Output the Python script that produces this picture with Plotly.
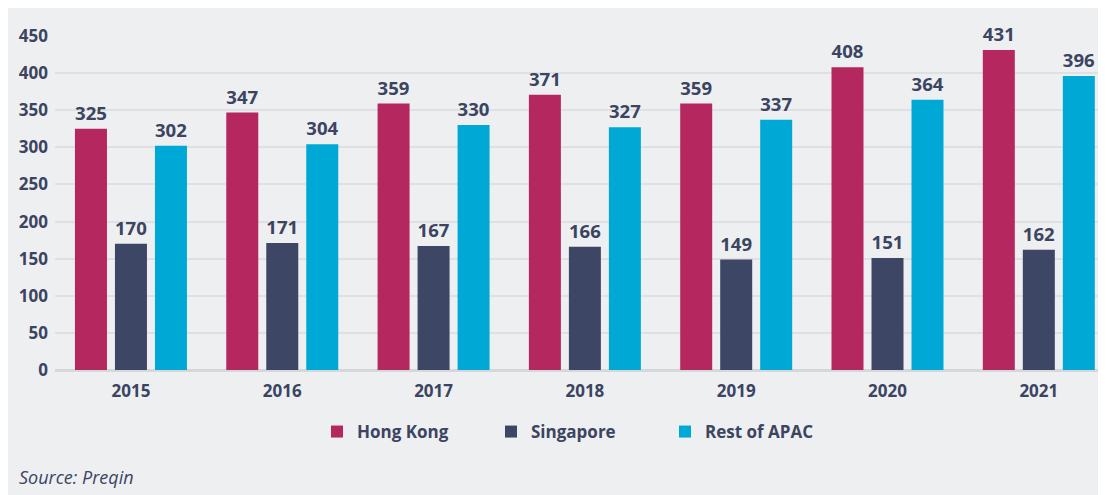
import plotly.graph_objects as go

years = ["2015", "2016", "2017", "2018", "2019", "2020", "2021"]
hong_kong = [325, 347, 359, 371, 359, 408, 431]
singapore = [170, 171, 167, 166, 149, 151, 162]
rest_apac = [302, 304, 330, 327, 337, 364, 396]
series_names = ["Hong Kong", "Singapore", "Rest of APAC"]
series_colors = ["#b5285f", "#3d4664", "#00a8d5"]
y_ticks = [0, 50, 100, 150, 200, 250, 300, 350, 400, 450]

TEXT = "#3b4461"
FONT = "Open Sans"
BG = "#eeeff1"

fig = go.Figure()
for name, vals, col in zip(series_names, [hong_kong, singapore, rest_apac], series_colors):
    fig.add_trace(go.Bar(
        x=years, y=vals, name=name,
        marker=dict(color=col, line=dict(width=0)),
        text=[str(v) for v in vals],
        textposition="outside",
        textfont=dict(family=FONT, size=19, color=TEXT, weight="bold"),
        cliponaxis=False,
    ))

# page has an 8px body margin; figure coordinates are page coordinates minus 8
OFF = 8
W, H = 1098, 487
ml, mr, mt, mb = 55 - OFF, 0, 36 - OFF, H - (370 - OFF)
pw = W - ml - mr
ph = H - mt - mb

def px(xp):
    return (xp - OFF - ml) / pw

def py(yp):
    return (H - mb - (yp - OFF)) / ph

fig.add_annotation(text="<i>Source: Preqin</i>", xref="paper", yref="paper",
                   x=px(17), y=py(477),
                   xanchor="left", yanchor="middle", showarrow=False,
                   font=dict(family=FONT, size=18, color=TEXT))

fig.update_layout(
    width=W, height=H,
    margin=dict(l=ml, r=mr, t=mt, b=mb),
    paper_bgcolor=BG,
    plot_bgcolor=BG,
    barmode="group",
    bargap=0.207,
    bargroupgap=0.2,
    font=dict(family=FONT, color=TEXT),
    xaxis=dict(
        type="category", range=[-0.502, 6.444],
        showgrid=False, showline=False, zeroline=False,
        tickfont=dict(family=FONT, size=17, color=TEXT, weight="bold"),
        ticks="", ticklabelstandoff=9,
    ),
    yaxis=dict(
        range=[0, 450], tickvals=y_ticks,
        showgrid=True, gridcolor="#dfe0e3", gridwidth=1.5,
        zeroline=True, zerolinecolor="#d6d7db", zerolinewidth=2.5,
        showline=False, ticks="",
        tickfont=dict(family=FONT, size=17, color=TEXT, weight="bold"),
        ticklabelstandoff=6,
    ),
    legend=dict(
        orientation="h", x=px(317), xanchor="left",
        y=py(432), yanchor="middle",
        font=dict(family=FONT, size=17, color=TEXT, weight="bold"),
        entrywidth=129, bgcolor="rgba(0,0,0,0)",
    ),
    showlegend=True,
)

fig.write_html("out.html")
